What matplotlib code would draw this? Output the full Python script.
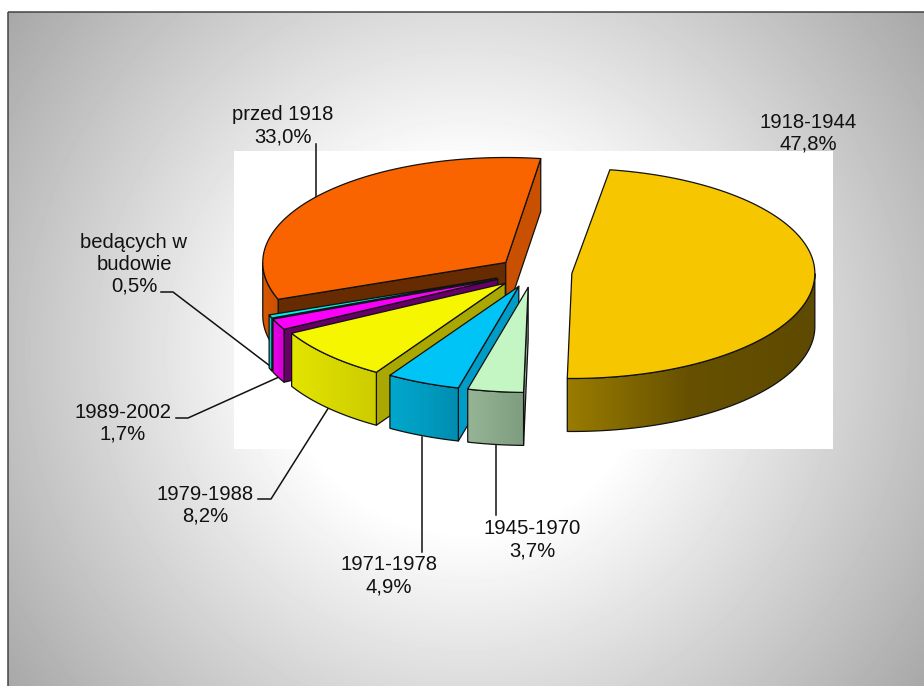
import numpy as np
import matplotlib
matplotlib.use('Agg')
import matplotlib.pyplot as plt
from matplotlib.colors import LinearSegmentedColormap
from matplotlib.patches import Polygon, Rectangle

# Slices, clockwise from the start angle
names = ['1918-1944', '1945-1970', '1971-1978', '1979-1988', '1989-2002',
         'bedących w\nbudowie', 'przed 1918']
shares = [47.8, 3.7, 4.9, 8.2, 1.7, 0.5, 33.0]

# Pie geometry in pixels
CX, CY = 533, 272
RX, RY = 243, 105
DEPTH = 53
START = 81
explode = [39, 36, 36, 38, 39, 39, 35]

top_col = ['#f6c600', '#c4f6c4', '#00c4f6', '#f6f600', '#fa00fa', '#00eeee', '#f96400']
face_col = ['#665000', '#8cab8c', '#009cc8', '#aaa800', '#660066', '#006666', '#662b00']
end_face_col = ['#665000', '#8cab8c', '#009cc8', '#aaa800', '#660066', '#006666', '#c85000']
wall_col = [('#9a7c00', '#665000', '#5e4a00'), ('#96b496', '#8aa88a', '#7e9c7e'),
            ('#00a8cc', '#009cc0', '#008cb0'), ('#e4e400', '#d8d800', '#cccc00'),
            ('#e600e6', '#dc00dc', '#d000d0'), ('#00d8d8', '#00d0d0', '#00c8c8'),
            ('#d85800', '#d05400', '#c85000')]
draw_order = [0, 6, 5, 4, 3, 2, 1]

# Label placement: text centre, then the leader line
label_pos = [(808, 133), (532, 540), (389, 576), (205, 505), (123, 423), (134, 264), (283, 126)]
leaders = [None,
           [(496, 443), (496, 515)],
           [(422, 437), (422, 552)],
           [(258, 499), (271, 499), (329, 407)],
           [(176, 418), (188, 418), (279, 377)],
           [(161, 292), (173, 292), (274, 369)],
           [(316, 144), (316, 197)]]

fig = plt.figure(figsize=(9.24, 6.86), dpi=100)
ax = fig.add_axes([0, 0, 1, 1])
ax.axis('off')

# Grey radial background inside the slide frame
yy, xx = np.mgrid[12:686, 8:924]
dist = np.hypot(xx - 466, yy - 350)
shade = 255 - 90 * np.clip((dist - 180) / 400, 0, 1)
ax.imshow(shade, cmap='gray', vmin=0, vmax=255, extent=(8, 924, 686, 12), zorder=0)
ax.add_patch(Rectangle((8, 12), 940, 700, fill=False, ec='#444444', lw=1.1, zorder=1))
ax.add_patch(Rectangle((234, 151), 599, 298, fc='white', ec='none', zorder=1))


def ell(x0, y0, angles):
    rad = np.radians(angles)
    return x0 + RX * np.cos(rad), y0 - RY * np.sin(rad)


def poly(x, y, fc, z):
    ax.add_patch(Polygon(np.column_stack([x, y]), closed=True, fc=fc, ec='#111111',
                         lw=0.9, joinstyle='round', zorder=z))


def wall(x0, y0, t1, t2, cols, z):
    # only the part of the rim that faces the viewer
    lo, hi = max(t2, -180), min(t1, 0)
    if lo >= hi:
        return
    t = np.linspace(lo, hi, 80)
    x, y = ell(x0, y0, t)
    px = np.r_[x, x[::-1]]
    py = np.r_[y, y[::-1] + DEPTH]
    cmap = LinearSegmentedColormap.from_list('w', cols)
    im = ax.imshow(np.linspace(0, 1, 256)[None, :], cmap=cmap, aspect='auto',
                   extent=(x.min(), x.max(), py.max(), py.min()), zorder=z)
    edge = Polygon(np.column_stack([px, py]), closed=True, fc='none', ec='#111111', lw=0.9, zorder=z + 0.1)
    ax.add_patch(edge)
    im.set_clip_path(edge)


# Slices are laid out from the shares, clockwise
ends = START - np.cumsum(shares) * 3.6
starts = np.r_[START, ends[:-1]]

z = 2
for i in draw_order:
    t1, t2 = starts[i], ends[i]
    mid = np.radians((t1 + t2) / 2)
    ax0 = CX + explode[i] * np.cos(mid)
    ay0 = CY - explode[i] * RY / RX * np.sin(mid)
    # flat cut faces, when they look towards the viewer
    for t, normal, col in [(t1, t1 + 90, face_col[i]), (t2, t2 - 90, end_face_col[i])]:
        if np.sin(np.radians(normal)) < 0:
            ox, oy = ell(ax0, ay0, np.array([t]))
            poly([ax0, ox[0], ox[0], ax0], [ay0, oy[0], oy[0] + DEPTH, ay0 + DEPTH], col, z)
    wall(ax0, ay0, t1, t2, wall_col[i], z + 0.2)
    ang = np.linspace(t1, t2, 120)
    x, y = ell(ax0, ay0, ang)
    poly(np.r_[ax0, x], np.r_[ay0, y], top_col[i], z + 0.5)
    z += 1

# Labels and leader lines
for i, name in enumerate(names):
    txt = name + '\n' + f'{shares[i]:.1f}'.replace('.', ',') + '%'
    ax.text(label_pos[i][0], label_pos[i][1], txt, family='Liberation Sans', fontsize=14.6,
            color='#111111', ha='center', va='center', linespacing=1.2, zorder=30)
    if leaders[i]:
        lx, ly = zip(*leaders[i])
        ax.plot(lx, ly, color='#111111', lw=1.1, zorder=1.5)

ax.set_xlim(0, 924)
ax.set_ylim(686, 0)
ax.set_aspect('auto')
fig.savefig('out.png', dpi=100, facecolor='white')
